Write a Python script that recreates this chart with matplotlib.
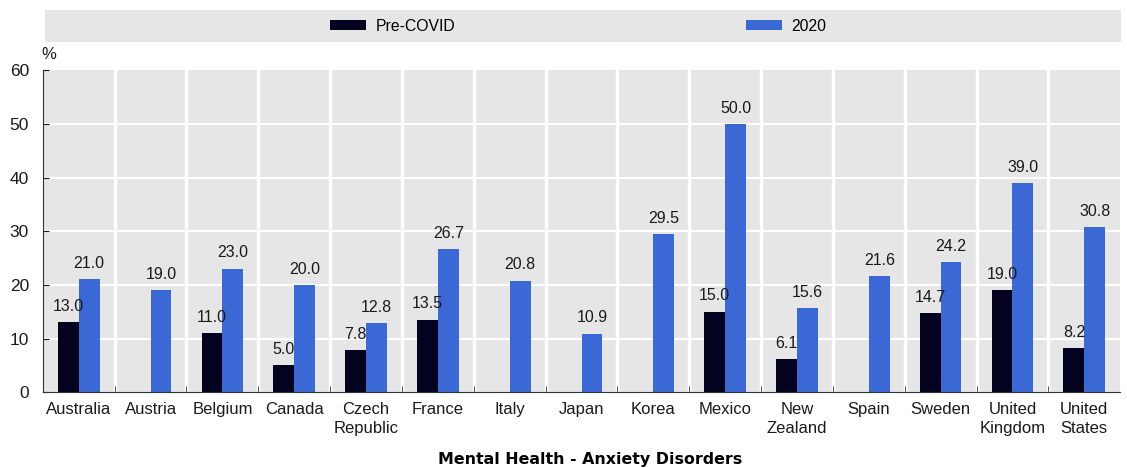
import numpy as np
import matplotlib.pyplot as plt
from matplotlib.patches import Rectangle

countries = ["Australia", "Austria", "Belgium", "Canada", "Czech\nRepublic", "France",
             "Italy", "Japan", "Korea", "Mexico", "New\nZealand", "Spain", "Sweden",
             "United\nKingdom", "United\nStates"]
pre_covid = [13.0, None, 11.0, 5.0, 7.8, 13.5, None, None, None, 15.0, 6.1, None, 14.7, 19.0, 8.2]
y2020 = [21.0, 19.0, 23.0, 20.0, 12.8, 26.7, 20.8, 10.9, 29.5, 50.0, 15.6, 21.6, 24.2, 39.0, 30.8]
y_ticks = [0, 10, 20, 30, 40, 50, 60]

dark = "#03031f"
blue = "#3a68d4"
grey = "#e6e6e6"
txt = "#1a1a1a"

plt.rcParams['font.family'] = ['Liberation Sans', 'DejaVu Sans']


def main():
    fig = plt.figure(figsize=(11.27, 4.68), dpi=100)
    ax = fig.add_axes([0.038, 0.162, 0.956, 0.688])

    n = len(countries)
    x = np.arange(n)
    w = 0.29

    ax.set_facecolor(grey)
    ax.set_xlim(-0.5, n - 0.5)
    ax.set_ylim(0, 60)

    # white gridlines and category separators
    for y in y_ticks[1:-1]:
        ax.axhline(y, color="white", lw=1.5, zorder=1)
    for b in np.arange(0.5, n - 0.5, 1):
        ax.axvline(b, color="white", lw=2.5, zorder=1)

    pre_vals = [v if v is not None else 0 for v in pre_covid]
    b1 = ax.bar(x - w / 2, pre_vals, w, color=dark, zorder=2, label="Pre-COVID")
    b2 = ax.bar(x + w / 2, y2020, w, color=blue, zorder=2, label="2020")

    for xi, v in zip(x, pre_covid):
        if v is not None:
            ax.annotate("%.1f" % v, (xi - w / 2, v), xytext=(0, 6), textcoords="offset points",
                        ha="center", va="bottom", fontsize=11.5, color=txt, zorder=3)
    for xi, v in zip(x, y2020):
        ax.annotate("%.1f" % v, (xi + w / 2, v), xytext=(0, 6), textcoords="offset points",
                    ha="center", va="bottom", fontsize=11.5, color=txt, zorder=3)

    for s in ["top", "right"]:
        ax.spines[s].set_visible(False)
    ax.spines["left"].set_color("#333333")
    ax.spines["bottom"].set_color("#333333")

    ax.set_yticks(y_ticks)
    ax.tick_params(axis="y", direction="in", length=4, labelsize=12.5, colors=txt, pad=10)
    ax.set_xticks(x)
    ax.set_xticklabels(countries, fontsize=12, color=txt, linespacing=1.3)
    ax.tick_params(axis="x", length=0, pad=7)
    ax.set_xticks(np.arange(0.5, n - 0.5, 1), minor=True)
    ax.tick_params(axis="x", which="minor", direction="in", length=4, color="#333333")

    fig.text(0.037, 0.868, "%", fontsize=12, color=txt, ha="left", va="bottom")

    # legend band
    fig.patches.append(Rectangle((0.040, 0.91), 0.955, 0.068, transform=fig.transFigure,
                                 facecolor=grey, edgecolor="none", zorder=0))
    fig.legend(handles=[b1, b2], loc="center", bbox_to_anchor=(0.513, 0.944), ncol=2,
               frameon=False, fontsize=11.3, columnspacing=18.5, handlelength=2.3,
               handleheight=0.65, handletextpad=0.6)

    fig.text(0.524, 0.003, "Mental Health - Anxiety Disorders", fontsize=11.4,
             fontweight="bold", ha="center", va="bottom", family=["DejaVu Sans"])

    fig.savefig("out.png", dpi=100)


if __name__ == "__main__":
    main()
